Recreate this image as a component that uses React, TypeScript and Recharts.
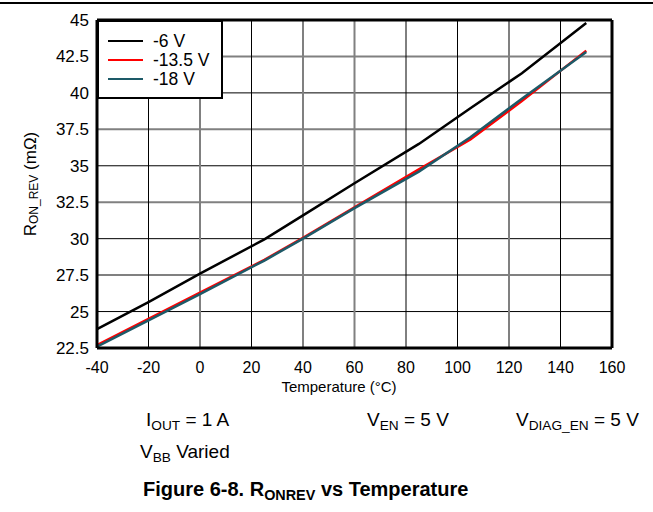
import React from 'react';
import {
    LineChart,
    Line,
    XAxis,
    YAxis,
    ReferenceLine,
} from 'recharts';

const temps = [-40, -20, 0, 25, 40, 60, 85, 105, 125, 150];
const vbb6 = [23.8, 25.65, 27.6, 29.95, 31.6, 33.8, 36.5, 38.95, 41.35, 44.8];
const vbb135 = [22.7, 24.5, 26.3, 28.55, 30.05, 32.15, 34.75, 36.8, 39.45, 42.9];
const vbb18 = [22.6, 24.4, 26.2, 28.5, 30.0, 32.1, 34.6, 36.95, 39.6, 42.8];

const xTicks = [-40, -20, 0, 20, 40, 60, 80, 100, 120, 140, 160];
const yTicks = [22.5, 25, 27.5, 30, 32.5, 35, 37.5, 40, 42.5, 45];

const series = [
    { key: 'v6', name: '-6 V', color: '#000000', width: 2.5 },
    { key: 'v135', name: '-13.5 V', color: '#ff0000', width: 2.5 },
    { key: 'v18', name: '-18 V', color: '#1d5a68', width: 2.5 },
];

const rows = temps.map((t, i) => ({ t, v6: vbb6[i], v135: vbb135[i], v18: vbb18[i] }));

const FONT = '"Liberation Sans", Arial, sans-serif';
const GREY = '#808080';
const greyVerticals = [0, 40, 60, 120];

const LegendBox = () => (
    <div style={{
        position: 'absolute',
        left: 97,
        top: 20,
        width: 126,
        height: 79,
        boxSizing: 'border-box',
        border: '2.5px solid #000',
        background: '#fff',
        fontFamily: FONT,
    }}>
        {series.map((s, i) => (
            <div key={s.key} style={{ position: 'absolute', left: 9, top: 9 + i * 19, display: 'flex', alignItems: 'center', height: 20 }}>
                <div style={{ width: 35, height: 2.5, background: s.color }} />
                <span style={{ marginLeft: 10, fontSize: 17.5, color: '#000' }}>{s.name}</span>
            </div>
        ))}
    </div>
);

const YTitle = ({ viewBox }: any) => {
    const cx = 30;
    const cy = viewBox.y + viewBox.height / 2;
    return (
        <text x={cx} y={cy} transform={`rotate(-90 ${cx} ${cy})`} textAnchor="middle" dominantBaseline="central"
            fontFamily={FONT} fontSize={17} fill="#000">
            R<tspan fontSize={12} dy={4}>ON_REV</tspan><tspan dy={-4}> (mΩ)</tspan>
        </text>
    );
};

const Sub = ({ children }: any) => (
    <span style={{ fontSize: '0.72em', position: 'relative', top: '0.3em' }}>{children}</span>
);

export default function App() {
    return (
        <div style={{ position: 'absolute', left: 0, top: 0, width: 653, height: 512, background: '#fff', fontFamily: FONT }}>
            <div style={{ position: 'absolute', left: 0, top: 2, width: 653, height: 1.5, background: '#000' }} />
            <LineChart width={653} height={512} data={rows} margin={{ top: 20, right: 41, bottom: 124, left: 37 }}>
                {yTicks.slice(1, -1).map((v) => (
                    <ReferenceLine key={'h' + v} y={v} stroke={v % 5 === 0 ? '#000' : GREY}
                        strokeWidth={v % 5 === 0 ? 1 : 2} />
                ))}
                {xTicks.slice(1, -1).map((v) => (
                    <ReferenceLine key={'v' + v} x={v} stroke={greyVerticals.includes(v) ? GREY : '#000'}
                        strokeWidth={greyVerticals.includes(v) ? 2 : 1} />
                ))}
                <ReferenceLine y={45} stroke="#000" strokeWidth={3} />
                <ReferenceLine x={160} stroke="#000" strokeWidth={3} />
                <XAxis dataKey="t" type="number" domain={[-40, 160]} ticks={xTicks} interval={0}
                    height={40} tickSize={0} tickMargin={14}
                    axisLine={{ stroke: '#000', strokeWidth: 3 }}
                    tick={{ fill: '#000', fontSize: 16, fontFamily: FONT }} />
                <YAxis type="number" domain={[22.5, 45]} ticks={yTicks} interval={0}
                    width={60} tickSize={0} tickMargin={8}
                    axisLine={{ stroke: '#000', strokeWidth: 3 }}
                    tick={{ fill: '#000', fontSize: 17, fontFamily: FONT }}
                    label={<YTitle />} />
                {series.map((s) => (
                    <Line key={s.key} dataKey={s.key} name={s.name} type="linear" stroke={s.color}
                        strokeWidth={s.width} dot={false} isAnimationActive={false} />
                ))}
            </LineChart>
            <LegendBox />
            <div style={{ position: 'absolute', left: 339, top: 378, transform: 'translateX(-50%)', fontSize: 15, whiteSpace: 'nowrap' }}>
                Temperature (°C)
            </div>
            <div style={{ position: 'absolute', left: 146, top: 409, fontSize: 19, whiteSpace: 'nowrap' }}>
                I<Sub>OUT</Sub> = 1 A
            </div>
            <div style={{ position: 'absolute', left: 367, top: 409, fontSize: 19, whiteSpace: 'nowrap' }}>
                V<Sub>EN</Sub> = 5 V
            </div>
            <div style={{ position: 'absolute', left: 516, top: 409, fontSize: 19, whiteSpace: 'nowrap' }}>
                V<Sub>DIAG_EN</Sub> = 5 V
            </div>
            <div style={{ position: 'absolute', left: 140, top: 441, fontSize: 19, whiteSpace: 'nowrap' }}>
                V<Sub>BB</Sub> Varied
            </div>
            <div style={{ position: 'absolute', left: 143, top: 478, fontSize: 20, fontWeight: 'bold', whiteSpace: 'nowrap' }}>
                Figure 6-8. R<Sub>ONREV</Sub> vs Temperature
            </div>
        </div>
    );
}
